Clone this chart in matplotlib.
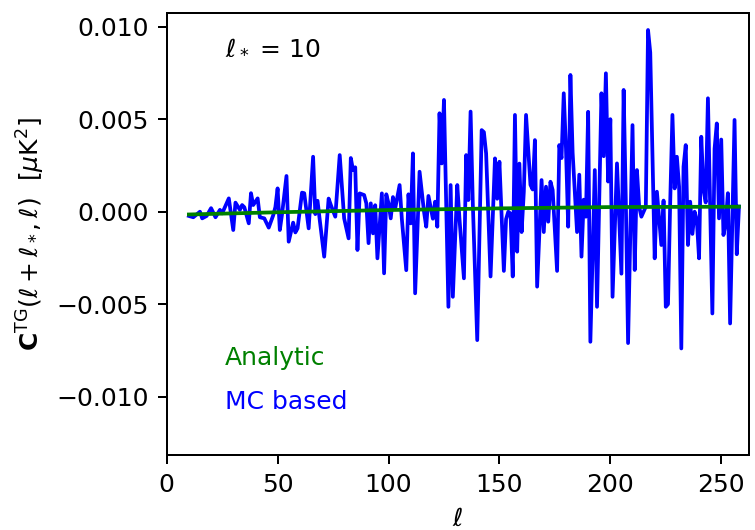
import numpy as np
import matplotlib
matplotlib.use('Agg')
import matplotlib.pyplot as plt

# multipole ell and MC-based cross spectrum (units of 1e-3 muK^2)
ell_mc = [10, 12, 13, 15, 16, 18, 20, 22, 24, 25, 28, 30, 31, 33, 34, 35, 37, 38, 39, 41,
          42, 44, 46, 48, 49, 50, 51, 52, 54, 55, 57, 58, 59, 61, 62, 64, 66, 67, 68, 69,
          71, 73, 74, 76, 78, 80, 82, 83, 84, 85, 86, 87, 89, 90, 91, 92, 93, 94, 95, 97,
          98, 99, 100, 101, 102, 103, 105, 106, 108, 109, 110, 111, 112, 114, 116, 117, 118, 120, 121, 122,
          123, 124, 125, 127, 128, 129, 131, 132, 134, 135, 136, 137, 138, 140, 142, 143, 144, 146, 148, 149,
          150, 152, 153, 154, 155, 156, 157, 158, 159, 160, 161, 162, 164, 165, 166, 167, 169, 170, 171, 172,
          173, 174, 176, 177, 178, 179, 180, 181, 182, 183, 185, 186, 187, 188, 189, 190, 191, 193, 194, 196,
          197, 198, 199, 200, 201, 203, 205, 206, 207, 208, 210, 211, 212, 213, 214, 216, 217, 218, 220, 221,
          222, 223, 224, 225, 226, 227, 228, 229, 230, 231, 232, 233, 234, 235, 236, 237, 238, 239, 240, 241,
          242, 243, 244, 246, 247, 248, 249, 250, 251, 252, 253, 254, 256, 257, 258]
cl_mc = [-0.23, -0.30, -0.20, 0.00, -0.36, -0.23, 0.19, -0.30, 0.10, -0.09, 0.72, -0.99, 0.49, 0.10, 0.36, 0.24, -0.63, 1.00, 0.36, 0.72,
         -0.30, -0.36, -0.86, -0.20, 0.25, 1.26, -0.99, -0.13, 1.93, -1.62, -0.59, -1.12, -0.90, 1.03, 1.00, -0.90, 2.97, -0.13, 0.59, -0.45,
         -2.43, 0.71, 0.36, -0.27, 3.06, -0.36, -1.44, 2.90, 2.25, 2.40, -2.07, 0.99, 0.90, 0.45, -1.70, 0.45, -1.17, 0.35, -2.52, 0.99,
         -3.33, 0.94, 0.45, -0.36, 0.79, 0.16, 1.44, -0.38, -3.16, 0.94, -0.63, 3.15, -4.41, 2.16, 0.00, -0.81, 0.85, -0.38, 0.54, -0.81,
         5.32, 2.61, 6.04, -5.14, 1.44, -4.60, 1.44, -0.40, -3.60, 3.06, 0.63, 5.41, 0.45, -6.94, 4.41, 4.30, 3.15, -3.50, 2.88, 0.70,
         2.70, -3.20, -0.40, 0.00, -0.10, -3.50, 5.23, -2.16, 2.60, -1.10, 1.08, 5.23, 1.45, 1.20, 3.87, -4.05, 1.71, -1.10, 1.35, -0.54,
         1.62, 1.17, -3.20, 3.60, 2.90, 6.40, 3.43, -0.81, 7.39, 3.20, -1.10, 2.00, -2.43, 0.65, -0.27, 5.40, -7.03, 2.25, -5.14, 6.40,
         3.00, 7.48, 1.63, 5.00, -4.60, 2.61, -3.35, 6.58, 0.50, -7.10, 4.68, -3.15, 2.25, 0.27, -0.27, 0.27, 9.82, 8.60, -2.52, 1.08,
         -0.36, -1.80, 0.60, -5.14, -5.00, 0.54, 5.23, 1.26, 2.97, 1.35, -7.39, 2.43, 3.60, -1.80, 0.54, -1.20, 0.00, -0.45, -2.52, 4.05,
         1.20, 0.50, 6.13, -5.50, 3.40, 4.77, -0.36, 3.90, -1.26, -0.63, 1.00, -6.04, 4.96, -2.30, 0.28]

# analytic curve (units of 1e-3 muK^2)
ell_an = [10, 50, 100, 150, 200, 258]
cl_an = [-0.15, -0.03, 0.09, 0.18, 0.25, 0.27]

fig = plt.figure(figsize=(755 / 180, 530 / 180), dpi=180)
ax = fig.add_axes([0.2208, 0.1415, 0.7712, 0.834])

ax.plot(ell_mc, np.array(cl_mc) * 1e-3, color='blue', lw=1.5)
ax.plot(ell_an, np.array(cl_an) * 1e-3, color='green', lw=1.5)

ax.set_xlim(0, 262.5)
ax.set_ylim(-0.01315, 0.01074)
ax.set_xticks([0, 50, 100, 150, 200, 250])
ax.set_yticks([-0.010, -0.005, 0.0, 0.005, 0.010])

ax.set_xlabel(r'$\ell$')
ax.set_ylabel(r'$\mathbf{C}^{\rm TG}(\ell+\ell_*,\ell)\ \ [\mu{\rm K}^2]$')

ax.text(0.10, 0.923, r'$\ell_*$ = 10', transform=ax.transAxes, va='center')
ax.text(0.10, 0.219, 'Analytic', transform=ax.transAxes, va='center', color='green')
ax.text(0.10, 0.12, 'MC based', transform=ax.transAxes, va='center', color='blue')

fig.savefig('out.png', dpi=180)
